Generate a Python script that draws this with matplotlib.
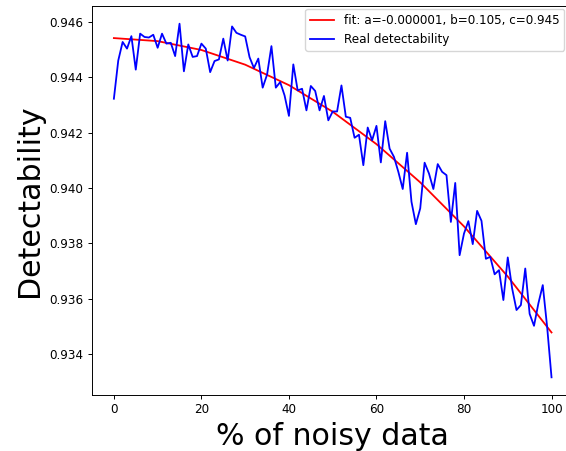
import matplotlib
matplotlib.use("Agg")
import matplotlib.pyplot as plt

# Real detectability, x = 0..100 (one value per % of noisy data)
noise_pct = list(range(101))
detectability = [
    0.94322, 0.94460, 0.94527, 0.94503, 0.94548, 0.94427, 0.94557, 0.94545, 0.94543, 0.94553,
    0.94506, 0.94557, 0.94521, 0.94524, 0.94476, 0.94593, 0.94421, 0.94518, 0.94473, 0.94476,
    0.94521, 0.94503, 0.94418, 0.94458, 0.94464, 0.94539, 0.94460, 0.94583, 0.94560, 0.94553,
    0.94547, 0.94472, 0.94433, 0.94467, 0.94362, 0.94409, 0.94512, 0.94362, 0.94382, 0.94334,
    0.94260, 0.94446, 0.94352, 0.94358, 0.94280, 0.94368, 0.94350, 0.94280, 0.94332, 0.94244,
    0.94276, 0.94276, 0.94370, 0.94257, 0.94253, 0.94181, 0.94192, 0.94082, 0.94218, 0.94172,
    0.94224, 0.94092, 0.94241, 0.94142, 0.94112, 0.94058, 0.93996, 0.94127, 0.93950, 0.93869,
    0.93926, 0.94091, 0.94052, 0.93996, 0.94086, 0.94058, 0.94046, 0.93877, 0.94018, 0.93757,
    0.93835, 0.93880, 0.93797, 0.93917, 0.93881, 0.93744, 0.93751, 0.93688, 0.93703, 0.93595,
    0.93749, 0.93637, 0.93559, 0.93577, 0.93709, 0.93545, 0.93502, 0.93583, 0.93649, 0.93498,
    0.93316,
]

# Fitted curve
fit_x = [0, 10, 20, 30, 40, 50, 60, 70, 80, 90, 100]
fit_y = [0.94541, 0.94530, 0.94498, 0.94445, 0.94371, 0.94275, 0.94158, 0.94020, 0.93861, 0.93680, 0.93478]

fit_label = "fit: a=-0.000001, b=0.105, c=0.945"
real_label = "Real detectability"
x_label = "% of noisy data"
y_label = "Detectability"

s = 0.864
plt.rcParams.update({
    "font.family": ["DejaVu Sans"],
    "font.size": 10 * s,
    "axes.linewidth": 0.8 * s,
    "xtick.major.width": 0.8 * s,
    "ytick.major.width": 0.8 * s,
    "xtick.major.size": 3.5 * s,
    "ytick.major.size": 3.5 * s,
    "xtick.major.pad": 3.5 * s,
    "ytick.major.pad": 3.5 * s,
})

fig = plt.figure(figsize=(5.66, 4.51), dpi=100)
ax = fig.add_axes([92 / 566, 56 / 451, (573.4 - 92) / 566, 389 / 451])

ax.plot(fit_x, fit_y, color="red", linewidth=1.5 * s, label=fit_label)
ax.plot(noise_pct, detectability, color="blue", linewidth=1.5 * s, label=real_label)

ax.set_xlabel(x_label, fontsize=25 * s)
ax.set_ylabel(y_label, fontsize=25 * s)
ax.set_xticks([0, 20, 40, 60, 80, 100])
ax.set_yticks([0.934, 0.936, 0.938, 0.940, 0.942, 0.944, 0.946])
ax.legend(loc="upper right", fontsize=10 * s,
          bbox_to_anchor=((564 - 92) / 481.4, (395 - 9) / 389), borderaxespad=0)

fig.savefig("out.png", dpi=100)
